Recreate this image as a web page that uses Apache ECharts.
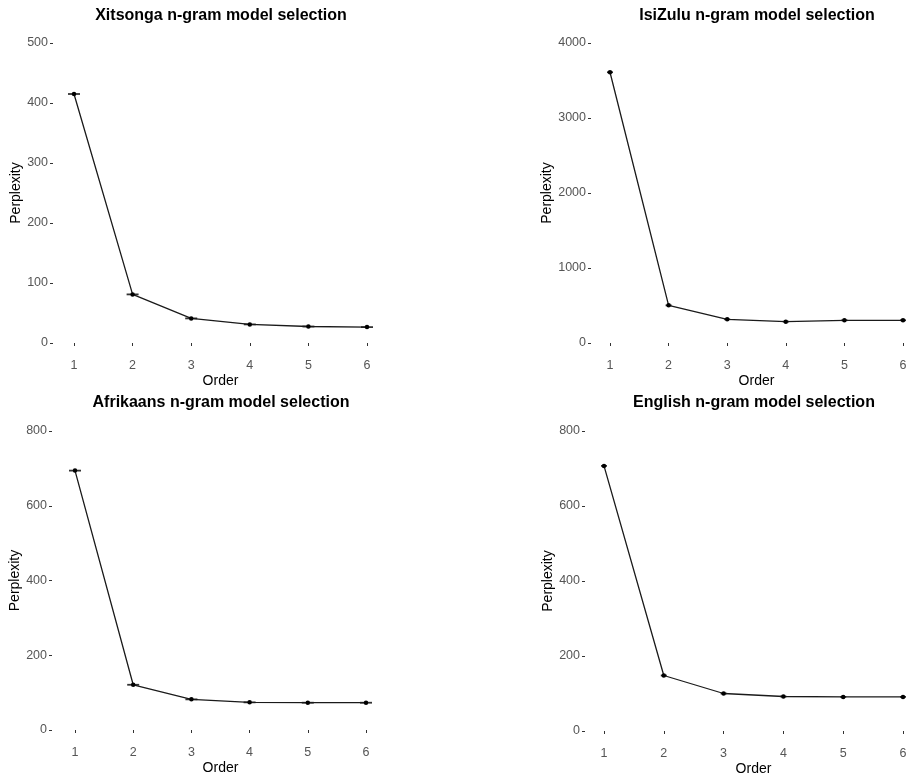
<!DOCTYPE html>
<html>
<head>
<meta charset="utf-8">
<title>n-gram model selection</title>
<script src="https://cdn.jsdelivr.net/npm/echarts@6/dist/echarts.min.js"></script>
<style>
  html, body { margin: 0; padding: 0; background: #fff; }
  #main { width: 911px; height: 781px; }
</style>
</head>
<body>
<div id="main"></div>
<script>
// 数据
var orders = [1, 2, 3, 4, 5, 6];
var xitsonga = [415, 81, 41, 31, 27.5, 26.5];
var isizulu = [3610, 502, 316, 285, 303, 303];
var afrikaans = [694, 121, 82, 74, 73, 73];
var english = [707, 148, 100, 92, 91, 91];

var titles = [
  'Xitsonga n-gram model selection',
  'IsiZulu n-gram model selection',
  'Afrikaans n-gram model selection',
  'English n-gram model selection',
];
var yMax = [500, 4000, 800, 800];
var yStep = [100, 1000, 200, 200];

// 面板位置
var panels = [
  { left: 74, top: 43, width: 293, height: 300, yOff: 21, nameGap: 26, cap: 12, mid: 221, titleY: 16 },
  { left: 610, top: 43, width: 293, height: 300, yOff: 19, nameGap: 27, cap: 6, mid: 757, titleY: 16 },
  { left: 75, top: 431, width: 291, height: 299, yOff: 23, nameGap: 25, cap: 12, mid: 221, titleY: 403 },
  { left: 604, top: 431, width: 299, height: 300, yOff: 19, nameGap: 24, cap: 6, mid: 754, titleY: 403 },
];

var font = 'Liberation Sans, Arial, Helvetica, sans-serif';

function pairs(values) {
  return orders.map(function(o, i) {
    return [o, values[i]];
  });
}

var seriesData = [xitsonga, isizulu, afrikaans, english];

var grids = [], xAxes = [], yAxes = [], series = [], graphics = [];

panels.forEach(function(p, i) {
  grids.push({ left: p.left, top: p.top, width: p.width, height: p.height });
  xAxes.push({
    gridIndex: i,
    type: 'value',
    min: 1,
    max: 6,
    interval: 1,
    offset: 12,
    name: 'Order',
    nameLocation: 'middle',
    nameGap: 19,
    nameTextStyle: { color: '#000', fontSize: 14, fontFamily: font },
    axisLine: { show: false },
    axisTick: { show: true, length: 3, lineStyle: { color: '#333', width: 1 } },
    axisLabel: { color: '#555', fontSize: 12.5, fontFamily: font, margin: 4 },
    splitLine: { show: false },
  });
  yAxes.push({
    gridIndex: i,
    type: 'value',
    min: 0,
    max: yMax[i],
    interval: yStep[i],
    offset: p.yOff,
    name: 'Perplexity',
    nameLocation: 'middle',
    nameGap: p.nameGap,
    nameTextStyle: { color: '#000', fontSize: 14, fontFamily: font },
    axisLine: { show: false },
    axisTick: { show: true, length: 3, lineStyle: { color: '#333', width: 1 } },
    axisLabel: {
      color: '#555',
      fontSize: 12.5,
      fontFamily: font,
      margin: 5,
      formatter: function(v) {
        return String(v);
      },
    },
    splitLine: { show: false },
  });
  series.push({
    type: 'line',
    xAxisIndex: i,
    yAxisIndex: i,
    data: pairs(seriesData[i]),
    symbol: 'circle',
    symbolSize: 4.5,
    silent: true,
    animation: false,
    lineStyle: { color: '#1a1a1a', width: 1.3 },
    itemStyle: { color: '#000' },
  });
  // 误差线横帽
  series.push({
    type: 'scatter',
    xAxisIndex: i,
    yAxisIndex: i,
    data: pairs(seriesData[i]),
    symbol: 'rect',
    symbolSize: [p.cap, 1.8],
    silent: true,
    animation: false,
    itemStyle: { color: '#000' },
  });
  graphics.push({
    type: 'text',
    x: p.mid,
    y: p.titleY,
    style: {
      text: titles[i],
      fill: '#000',
      font: 'bold 16px ' + font,
      textAlign: 'center',
      textVerticalAlign: 'middle',
    },
  });
});

var option = {
  backgroundColor: '#FFFFFF',
  animation: false,
  grid: grids,
  xAxis: xAxes,
  yAxis: yAxes,
  series: series,
  graphic: graphics,
};

var myChart = echarts.init(document.getElementById('main'));
myChart.setOption(option);
</script>
</body>
</html>
